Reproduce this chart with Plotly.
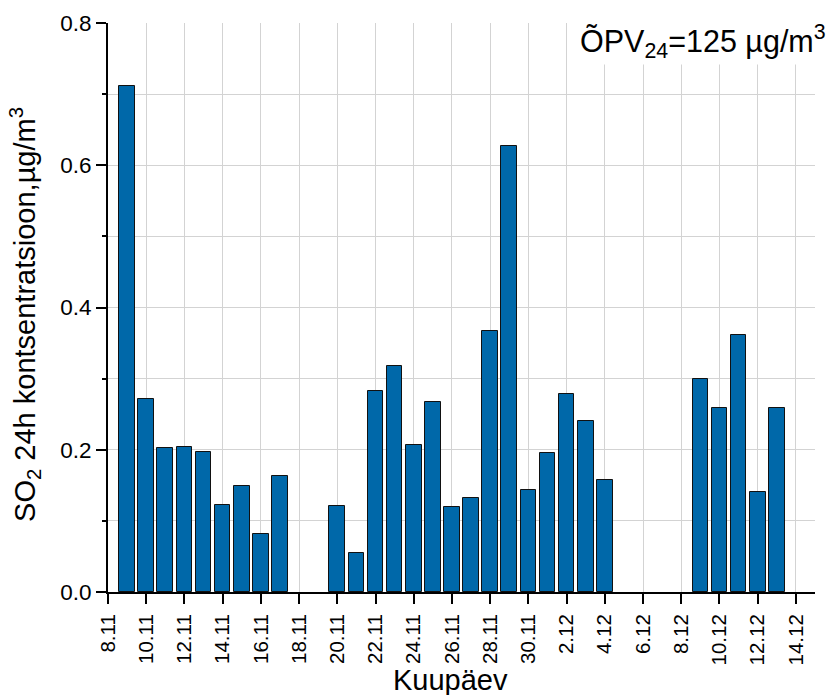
import plotly.graph_objects as go

dates = ["2023-11-09", "2023-11-10", "2023-11-11", "2023-11-12", "2023-11-13",
         "2023-11-14", "2023-11-15", "2023-11-16", "2023-11-17",
         "2023-11-20", "2023-11-21", "2023-11-22", "2023-11-23", "2023-11-24",
         "2023-11-25", "2023-11-26", "2023-11-27", "2023-11-28", "2023-11-29",
         "2023-11-30", "2023-12-01", "2023-12-02", "2023-12-03", "2023-12-04",
         "2023-12-09", "2023-12-10", "2023-12-11", "2023-12-12", "2023-12-13"]
so2 = [0.711, 0.272, 0.202, 0.204, 0.197,
       0.123, 0.149, 0.081, 0.163,
       0.121, 0.055, 0.282, 0.318, 0.206,
       0.267, 0.119, 0.132, 0.367, 0.627,
       0.143, 0.196, 0.278, 0.241, 0.158,
       0.300, 0.259, 0.362, 0.141, 0.259]

x_range = ["2023-11-08", "2023-12-15"]
y_range = [0, 0.8]
DAY = 86400000

font_family = "Liberation Sans, Arial, sans-serif"
grid = "#d3d3d3"

fig = go.Figure()
fig.add_trace(go.Bar(
    x=dates, y=so2,
    width=0.82 * DAY,
    marker=dict(color="#0068a9", line=dict(color="#111111", width=1)),
))

fig.update_layout(
    width=828, height=695,
    margin=dict(l=108, r=13, t=23, b=103),
    paper_bgcolor="white", plot_bgcolor="white",
    font=dict(family=font_family, color="black"),
    showlegend=False,
    bargap=0,
)

fig.update_xaxes(
    type="date",
    range=x_range,
    tick0="2023-11-08", dtick=2 * DAY,
    tickformat="%-d.%-m",
    tickangle=-90,
    tickfont=dict(size=20.5),
    ticks="outside", ticklen=10, tickwidth=2, tickcolor="black",
    ticklabelstandoff=2,
    showline=True, linecolor="black", linewidth=2,
    showgrid=True, gridcolor=grid, gridwidth=1,
    automargin=False,
    zeroline=False,
)

fig.update_yaxes(
    range=y_range,
    tick0=0, dtick=0.2,
    tickformat=".1f",
    tickfont=dict(size=22.5),
    ticks="outside", ticklen=10, tickwidth=2, tickcolor="black",
    showline=True, linecolor="black", linewidth=2,
    showgrid=True, gridcolor=grid, gridwidth=1,
    minor=dict(dtick=0.1, ticks="outside", ticklen=4, tickwidth=1.5,
               tickcolor="black", showgrid=True, gridcolor=grid, gridwidth=1),
    automargin=False,
    zeroline=False,
)

# axis titles (placed as annotations to match the reference offsets)
fig.add_annotation(
    xref="paper", yref="paper", x=0.484, y=0,
    xanchor="center", yanchor="top", yshift=-70,
    text="Kuupäev", showarrow=False,
    font=dict(size=29, color="black"),
)
fig.add_annotation(
    xref="paper", yref="paper", x=0, y=0.487,
    xanchor="right", yanchor="middle", xshift=-61,
    text="SO<sub>2</sub> 24h kontsentratsioon,µg/m<sup>3</sup>",
    textangle=-90, showarrow=False,
    font=dict(size=29, color="black"),
)

fig.add_annotation(
    xref="paper", yref="paper", x=1, y=1,
    xanchor="right", yanchor="top", xshift=13, yshift=5,
    text="ÕPV<sub>24</sub>=125 µg/m<sup>3</sup>",
    showarrow=False,
    font=dict(size=30.5, color="black"),
    bgcolor="white", borderpad=1,
)

fig.write_html("out.html")
